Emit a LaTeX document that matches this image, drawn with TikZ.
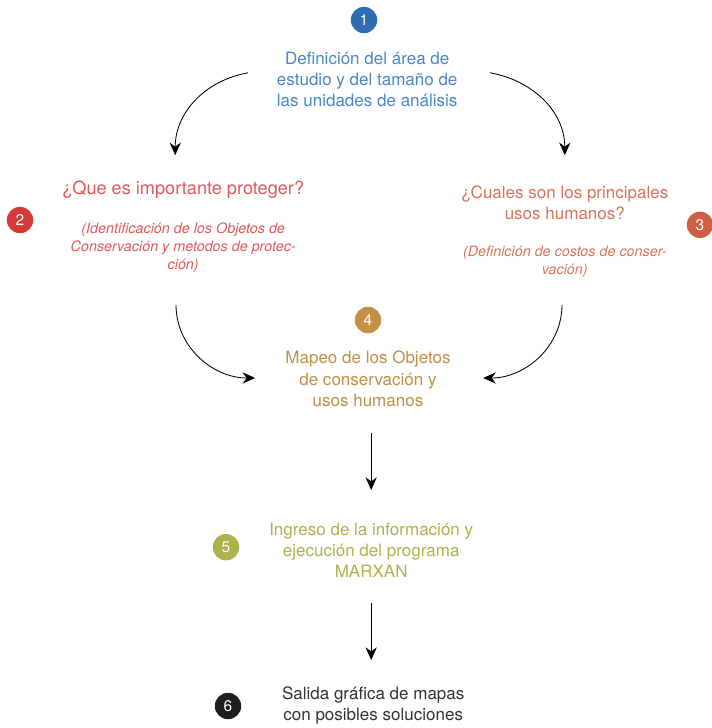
\documentclass[tikz,border=0pt]{standalone}
\usepackage{fontspec}
\setmainfont{TeX Gyre Heros}
\usetikzlibrary{arrows.meta}
\definecolor{azul}{HTML}{2E6DB4}
\definecolor{azultxt}{HTML}{4A86C8}
\definecolor{rojo}{HTML}{D43A3A}
\definecolor{rojotxt}{HTML}{E0585C}
\definecolor{naranja}{HTML}{CF5E44}
\definecolor{naranjatxt}{HTML}{D9735A}
\definecolor{ocre}{HTML}{C28F45}
\definecolor{oliva}{HTML}{ADB24C}
\definecolor{negro}{HTML}{1E1E1E}
\definecolor{gristxt}{HTML}{333333}
\tikzset{
  num/.style={circle, fill=#1, text=white, minimum size=0.66cm, inner sep=0pt, font=\fontsize{11}{12}\selectfont},
  titulo/.style={align=center, text=#1, inner sep=0pt, font=\fontsize{12.1}{15}\selectfont},
  nota/.style={align=center, text=#1, inner sep=0pt, font=\fontsize{10.2}{12.8}\selectfont\itshape},
  flecha/.style={-{Stealth[length=9pt,width=8pt]}, semithick, black}
}
\begin{document}
\begin{tikzpicture}
\useasboundingbox (0,0) rectangle (17.8,-18.2);
\node[num=azul] (c1) at (9.1,-0.5) {1};
\node[titulo=azultxt] (t1) at (9.18,-1.98) {Definición del área de\\estudio y del tamaño de\\las unidades de análisis};
\node[num=rojo] (c2) at (0.5,-5.5) {2};
\node[titulo=rojotxt, font=\fontsize{12.9}{15}\selectfont] (t2) at (4.58,-4.75) {¿Que es importante proteger?};
\node[nota=rojotxt] (n2) at (4.58,-6.2) {(Identificación de los Objetos de\\Conservación y metodos de protec-\\ción)};
\node[num=naranja] (c3) at (17.5,-5.62) {3};
\node[titulo=naranjatxt] (t3) at (14.12,-5.08) {¿Cuales son los principales\\usos humanos?};
\node[nota=naranjatxt] (n3) at (14.12,-6.55) {(Definición de costos de conser-\\vación)};
\node[num=ocre] (c4) at (9.2,-8.0) {4};
\node[titulo=ocre] (t4) at (9.2,-9.47) {Mapeo de los Objetos\\de conservación y\\usos humanos};
\node[num=oliva] (c5) at (5.65,-13.68) {5};
\node[titulo=oliva] (t5) at (9.28,-13.75) {Ingreso de la información y\\ejecución del programa\\MARXAN};
\node[num=negro] (c6) at (5.7,-17.65) {6};
\node[titulo=gristxt] (t6) at (9.33,-17.63) {Salida gráfica de mapas\\con posibles soluciones};
% puntas de las flechas
\coordinate (a1) at (6.2,-1.82);
\coordinate (a2) at (4.38,-3.88);
\coordinate (b1) at (12.25,-1.82);
\coordinate (b2) at (14.12,-3.88);
\coordinate (d1) at (4.4,-7.62);
\coordinate (d2) at (6.38,-9.45);
\coordinate (e1) at (14.05,-7.62);
\coordinate (e2) at (12.08,-9.45);
\coordinate (f1) at (9.28,-10.82);
\coordinate (f2) at (9.28,-12.25);
\coordinate (g1) at (9.28,-15.08);
\coordinate (g2) at (9.28,-16.5);
\draw[flecha] (a1) to[out=190,in=90] (a2);
\draw[flecha] (b1) to[out=-10,in=90] (b2);
\draw[flecha] (d1) to[out=-90,in=180] (d2);
\draw[flecha] (e1) to[out=-90,in=0] (e2);
\draw[flecha] (f1) -- (f2);
\draw[flecha] (g1) -- (g2);
\end{tikzpicture}
\end{document}
